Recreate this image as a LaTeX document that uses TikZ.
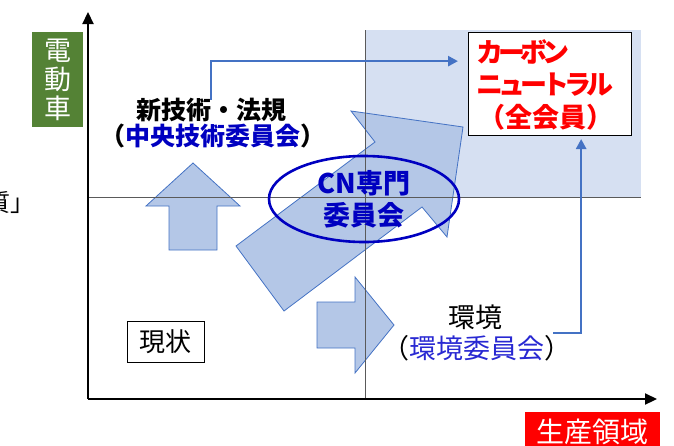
\documentclass[tikz,border=0pt]{standalone}
\usepackage{fontspec}
\setmainfont{Noto Sans CJK JP}
\usetikzlibrary{arrows.meta,shapes.geometric,calc}
\definecolor{axgreen}{RGB}{84,130,53}
\definecolor{connblue}{RGB}{68,114,196}
\definecolor{arrfill}{RGB}{180,199,231}
\definecolor{arrdraw}{RGB}{68,114,196}
\definecolor{cnblue}{RGB}{0,0,192}
\definecolor{envblue}{RGB}{40,40,210}
\definecolor{zonefill}{RGB}{214,224,242}
\definecolor{divgray}{RGB}{90,90,90}
\tikzset{
  axisline/.style={line width=2.2pt,-{Triangle[length=12pt,width=11pt]}},
  divline/.style={draw=divgray,line width=0.8pt},
  blockarrow/.style={fill=arrfill,draw=arrdraw,line width=0.8pt,line join=miter},
  conn/.style={draw=connblue,line width=2.6pt,-{Triangle[length=10pt,width=10pt]}},
  txt/.style={inner sep=0pt,font=\fontsize{#1}{#1}\selectfont},
  txt/.default=26,
  btxt/.style={inner sep=0pt,font=\bfseries\fontsize{#1}{#1}\selectfont}
}
\newcommand{\nk}{\kern-5pt }
\begin{document}
\begin{tikzpicture}[x=1pt,y=-1pt]
\useasboundingbox (0,0) rectangle (674,445);
% shaded target zone
\fill[zonefill] (365,30) rectangle (641,197);
% block arrows
\draw[blockarrow] (193,163) -- (240,206) -- (217,206) -- (217,250) -- (169,250) -- (169,206) -- (146,206) -- cycle;
\draw[blockarrow] (394,325) -- (355,373) -- (355,348) -- (317,348) -- (317,302) -- (355,302) -- (355,277) -- cycle;
\draw[blockarrow] (236,246) -- (375,142) -- (351,111) -- (463,127) -- (447,237) -- (422,207) -- (284,311) -- cycle;
% dividing lines
\draw[divline] (365,30) -- (365,399);
\draw[divline] (88,197) -- (641,197);
% axes
\coordinate (O) at (88,399);
\coordinate (ytop) at (88,12);
\coordinate (xend) at (657,399);
\draw[axisline] (O) -- (ytop);
\draw[axisline] (O) -- (xend);
% axis labels
\node[fill=axgreen,text=white,minimum width=51pt,minimum height=95pt,inner sep=0pt,align=center,font=\fontsize{27}{29}\selectfont] (ylab) at (57.5,79.5) {電\\動\\車};
\node[fill=red,text=white,minimum width=135pt,minimum height=40pt,inner sep=0pt,anchor=north west] (xlab) at (525,412) {};
\node[txt=28,text=white] (xlabt) at (592.5,432) {生産領域};
% cut-off text at left edge
\node[txt=24,anchor=east] (cut) at (35,202) {質」};
% goal box
\node[draw=black,fill=white,line width=1pt,minimum width=163pt,minimum height=103pt,anchor=north west,inner sep=0pt] (cn) at (468,32) {};
\node[btxt=27,text=red,anchor=west] (cn1) at (476,52) {カ\nk ー\nk ボ\nk ン};
\node[btxt=27,text=red,anchor=west] (cn2) at (476,85) {ニ\nk ュ\nk ー\nk ト\nk ラ\nk ル};
\node[btxt=27,text=red,anchor=west] (cn3) at (478,117) {（全会員）};
% ellipse
\node[ellipse,draw=cnblue,line width=2.6pt,minimum width=190pt,minimum height=86pt,inner sep=0pt,text=cnblue,align=center,font=\bfseries\fontsize{27}{32}\selectfont] (cne) at (364,199) {CN専門\\委員会};
% labels
\node[btxt=25] (lbl1) at (211,110) {新技術・法規};
\node[btxt=25] (lbl1b) at (213,136) {（\textcolor{cnblue}{中央技術委員会}）};
\node[txt=27] (env1) at (475,317) {環境};
\node[txt=27] (env2) at (476.5,348) {（\textcolor{envblue}{環境委員会}）};
\node[draw=black,line width=0.9pt,minimum width=77pt,minimum height=41pt,inner sep=0pt,font=\fontsize{26}{26}\selectfont] (now) at (165.5,341.5) {現状};
% connectors
\draw[conn,shorten >=10pt] ([yshift=-2pt]lbl1.north) |- ($(cn.north west)!0.28!(cn.south west)$);
\coordinate (c2) at (553,333);
\draw[conn,shorten >=3pt] (c2) -| ($(cn.south west)!0.69!(cn.south east)$);
\end{tikzpicture}
\end{document}
